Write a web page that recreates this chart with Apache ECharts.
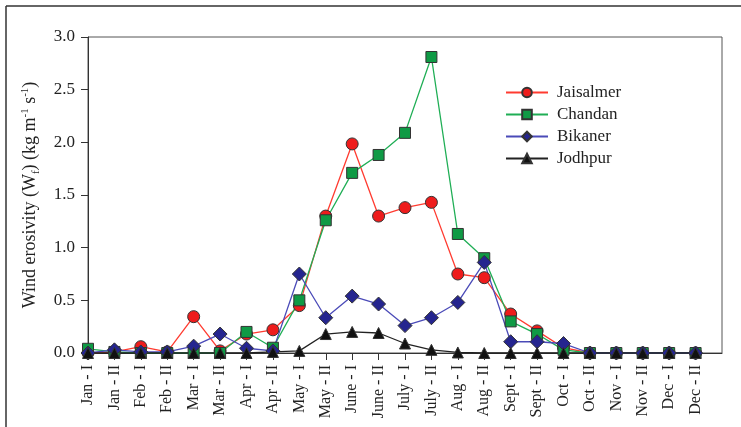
<!DOCTYPE html>
<html>
<head>
<meta charset="utf-8">
<script src="https://cdn.jsdelivr.net/npm/echarts@6/dist/echarts.min.js"></script>
<style>
  html, body { margin: 0; padding: 0; background: #fff; }
  #chart { width: 741px; height: 427px; }
</style>
</head>
<body>
<div id="chart"></div>
<script>
// Fortnightly periods (I = first half, II = second half of the month)
const periods = ['Jan - I', 'Jan - II', 'Feb - I', 'Feb - II', 'Mar - I', 'Mar - II',
  'Apr - I', 'Apr - II', 'May - I', 'May - II', 'June - I', 'June - II',
  'July - I', 'July - II', 'Aug - I', 'Aug - II', 'Sept - I', 'Sept - II',
  'Oct - I', 'Oct - II', 'Nov - I', 'Nov - II', 'Dec - I', 'Dec - II'];

// Wind erosivity Wf (kg m^-1 s^-1) per station
const jaisalmer = [0.00, 0.01, 0.06, 0.01, 0.345, 0.02, 0.18, 0.22, 0.45, 1.30, 1.985, 1.30,
  1.38, 1.43, 0.75, 0.715, 0.37, 0.21, 0.05, 0.00, 0.00, 0.00, 0.00, 0.00];
const chandan = [0.04, 0.01, 0.00, 0.00, 0.00, 0.00, 0.20, 0.05, 0.50, 1.26, 1.71, 1.88,
  2.09, 2.81, 1.13, 0.90, 0.30, 0.18, 0.03, 0.00, 0.00, 0.00, 0.00, 0.00];
const bikaner = [0.00, 0.03, 0.01, 0.01, 0.065, 0.18, 0.045, 0.02, 0.75, 0.335, 0.54, 0.465,
  0.26, 0.335, 0.48, 0.86, 0.107, 0.107, 0.09, 0.00, 0.00, 0.00, 0.00, 0.00];
const jodhpur = [0.00, 0.00, 0.00, 0.00, 0.00, 0.00, 0.00, 0.01, 0.02, 0.18, 0.20, 0.19,
  0.09, 0.03, 0.005, 0.00, 0.00, 0.00, 0.00, 0.00, 0.00, 0.00, 0.00, 0.00];

const yTicks = ['0.0', '0.5', '1.0', '1.5', '2.0', '2.5', '3.0'];

const SERIF = '"Liberation Serif", "DejaVu Serif", serif';
const tickIdx = periods.map((_, i) => i);

function pairs(arr) { return arr.map((v, i) => [i, v]); }

function station(name, data, lineColor, fill, symbol, size) {
  return {
    name: name,
    type: 'line',
    data: pairs(data),
    symbol: symbol,
    symbolSize: size,
    clip: false,
    lineStyle: { color: lineColor, width: 1.3 },
    itemStyle: { color: fill, borderColor: '#333', borderWidth: 1 },
    emphasis: { disabled: true },
    animation: false
  };
}

const chart = echarts.init(document.getElementById('chart'), null, { renderer: 'canvas' });

chart.setOption({
  backgroundColor: '#ffffff',
  animation: false,
  grid: {
    left: 88, right: 19, top: 37, bottom: 74,
    show: true, borderColor: '#555', borderWidth: 1, backgroundColor: 'transparent'
  },
  legend: {
    orient: 'vertical',
    left: 500, top: 79,
    itemWidth: 42, itemHeight: 12, itemGap: 5,
    textStyle: { fontFamily: SERIF, fontSize: 17, color: '#222', padding: [0, 0, 0, 4] },
    data: ['Jaisalmer', 'Chandan', 'Bikaner', 'Jodhpur']
  },
  xAxis: {
    type: 'value',
    min: 0, max: 24, interval: 1,
    splitLine: { show: false },
    axisLine: { lineStyle: { color: '#333', width: 1 } },
    axisTick: { inside: false, length: 7, lineStyle: { color: '#333' }, customValues: tickIdx },
    axisLabel: {
      customValues: tickIdx,
      rotate: 90,
      margin: 12,
      fontFamily: SERIF, fontSize: 16, color: '#222',
      formatter: v => periods[v] !== undefined ? periods[v] : ''
    }
  },
  yAxis: {
    type: 'value',
    min: 0, max: 3, interval: 0.5,
    splitLine: { show: false },
    axisLine: { show: true, lineStyle: { color: '#333', width: 1 } },
    axisTick: { show: true, inside: false, length: 7, lineStyle: { color: '#333' } },
    axisLabel: {
      margin: 13,
      fontFamily: SERIF, fontSize: 17, color: '#222',
      formatter: v => yTicks[Math.round(v / 0.5)]
    },
    name: '{t|Wind erosivity (W}{sub|f}{t|) (kg m}{sup|-1}{t| s}{sup|-1}{t|)}',
    nameLocation: 'middle',
    nameRotate: 90,
    nameGap: 49,
    nameTextStyle: {
      rich: {
        t: { fontFamily: SERIF, fontSize: 18, color: '#222', lineHeight: 22, verticalAlign: 'bottom' },
        sub: { fontFamily: SERIF, fontSize: 11, color: '#222', lineHeight: 22, verticalAlign: 'bottom', padding: [0, 0, -3, 0] },
        sup: { fontFamily: SERIF, fontSize: 11, color: '#222', lineHeight: 22, verticalAlign: 'bottom', padding: [0, 0, 8, 0] }
      }
    }
  },
  graphic: [
    { type: 'line', shape: { x1: 6, y1: 6, x2: 741, y2: 6 }, style: { stroke: '#333', lineWidth: 1.5 }, silent: true },
    { type: 'line', shape: { x1: 6, y1: 6, x2: 6, y2: 427 }, style: { stroke: '#333', lineWidth: 1.5 }, silent: true }
  ],
  series: [
    station('Jaisalmer', jaisalmer, '#ff3b30', '#ee1c1c', 'circle', 12),
    station('Chandan', chandan, '#1fae55', '#0f9a45', 'rect', 11),
    station('Bikaner', bikaner, '#4a4ab8', '#25258f', 'diamond', 14),
    station('Jodhpur', jodhpur, '#222222', '#111111', 'triangle', 11)
  ]
});
</script>
</body>
</html>
